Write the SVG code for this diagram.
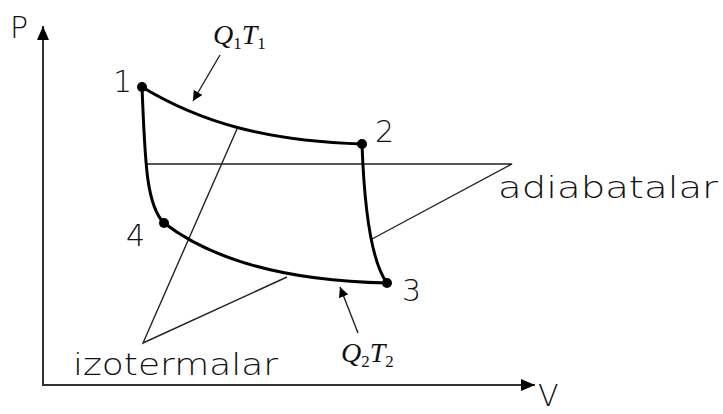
<svg xmlns="http://www.w3.org/2000/svg" width="723" height="414" viewBox="0 0 723 414">
<defs>
<marker id="ah" viewBox="0 0 10 10" refX="10" refY="5" markerWidth="10" markerHeight="10" markerUnits="userSpaceOnUse" orient="auto"><path d="M0,0 L10,5 L0,10 z" fill="#000"/></marker>
<marker id="axh" viewBox="0 0 14 12" refX="14" refY="6" markerWidth="16" markerHeight="12" markerUnits="userSpaceOnUse" orient="auto"><path d="M0,0 L14,6 L0,12 z" fill="#000"/></marker>
</defs>
<style>
.lbl{font-family:"DejaVu Sans","Liberation Sans",sans-serif;font-weight:200;font-size:30px;fill:#111}
.math{font-family:"Liberation Serif","DejaVu Serif",serif;font-style:italic;fill:#111}
.cyc{fill:none;stroke:#000;stroke-width:3}
.thin{fill:none;stroke:#222;stroke-width:1.4}
.axis{fill:none;stroke:#333;stroke-width:2}
.dot{fill:#000}
</style>
<rect width="723" height="414" fill="#fff"/>
<g id="axes">
<path class="axis" d="M43,385 L43,26" marker-end="url(#axh)"/>
<path class="axis" d="M42,385 L535,385" marker-end="url(#axh)"/>
<text class="lbl" x="10" y="38" font-size="28">P</text>
<text class="lbl" x="538" y="406" font-size="20">V</text>
</g>
<g id="connectors">
<path class="thin" d="M147,164 L512,164 L372,239"/>
<path class="thin" d="M237,129 L143,343 L287,277"/>
<path class="thin" d="M220,55 L193,101" marker-end="url(#ah)"/>
<path class="thin" d="M358,333 L340,287" marker-end="url(#ah)"/>
</g>
<g id="cycle">
<path class="cyc" d="M142,87 C200,122 265,141 362,144"/>
<path class="cyc" d="M362,144 C364,200 370,260 387,283"/>
<path class="cyc" d="M164,223 C215,262 290,281 387,283"/>
<path class="cyc" d="M142,87 C145,160 146,205 164,223"/>
</g>
<g id="node1"><circle class="dot" cx="142" cy="87" r="5"/><text class="lbl" x="113" y="92">1</text></g>
<g id="node2"><circle class="dot" cx="362" cy="144" r="5"/><text class="lbl" x="375" y="142">2</text></g>
<g id="node3"><circle class="dot" cx="387" cy="283" r="5"/><text class="lbl" x="402" y="301">3</text></g>
<g id="node4"><circle class="dot" cx="164" cy="223" r="5"/><text class="lbl" x="126" y="246">4</text></g>
<g id="label-adiabat"><text class="lbl" x="498" y="198" textLength="220" lengthAdjust="spacingAndGlyphs">adiabatalar</text></g>
<g id="label-izoterm"><text class="lbl" x="73" y="375" textLength="205" lengthAdjust="spacingAndGlyphs">izotermalar</text></g>
<g id="label-q1"><text class="math" x="213" y="44" font-size="28">Q<tspan font-size="17" dy="5" font-style="normal">1</tspan><tspan dy="-5">T</tspan><tspan font-size="17" dy="5" font-style="normal">1</tspan></text></g>
<g id="label-q2"><text class="math" x="341" y="362" font-size="28">Q<tspan font-size="17" dy="5" font-style="normal">2</tspan><tspan dy="-5">T</tspan><tspan font-size="17" dy="5" font-style="normal">2</tspan></text></g>
</svg>
